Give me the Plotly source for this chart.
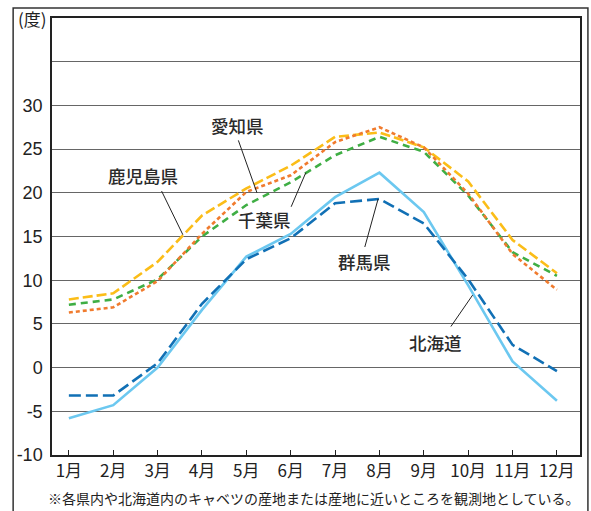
import plotly.graph_objects as go

# 月別平均気温(度)
months = list(range(1, 13))
month_labels = ["1月", "2月", "3月", "4月", "5月", "6月", "7月", "8月", "9月", "10月", "11月", "12月"]

hokkaido = [-5.8, -4.3, 0.0, 6.6, 12.7, 15.3, 19.5, 22.3, 17.8, 9.4, 0.7, -3.8]
gunma = [-3.2, -3.2, 0.5, 7.3, 12.4, 14.8, 18.8, 19.3, 16.5, 10.1, 2.6, -0.4]
aichi = [7.8, 8.5, 12.1, 17.4, 20.5, 23.1, 26.4, 26.9, 25.2, 21.3, 14.6, 10.8]
chiba = [7.2, 7.8, 10.1, 15.0, 18.6, 21.2, 24.3, 26.4, 24.7, 19.7, 13.2, 10.5]
kagoshima = [6.3, 6.9, 9.9, 15.3, 20.1, 22.0, 25.8, 27.5, 25.2, 19.9, 13.0, 8.9]

y_tickvals = [-10, -5, 0, 5, 10, 15, 20, 25, 30, 35]
y_ticktext = ["-10", "-5", "0", "5", "10", "15", "20", "25", "30", ""]

JP = "Noto Sans CJK JP"
NUM = "Liberation Sans, Arial, Noto Sans CJK JP"

series = [
    (hokkaido, "#6cc8f0", "solid"),
    (gunma, "#1170b5", "12px,5px"),
    (aichi, "#fbbd18", "10px,4px"),
    (chiba, "#3fae44", "7px,5px"),
    (kagoshima, "#f07b2e", "4px,3px"),
]

fig = go.Figure()
for vals, color, dash in series:
    fig.add_trace(go.Scatter(
        x=months, y=vals, mode="lines",
        line=dict(color=color, width=2.6, dash=dash),
        showlegend=False, hoverinfo="skip",
    ))

# 系列名と引き出し線: (名前, ラベル位置, 線の始点, 線の終点)
labels = [
    ("愛知県", (4.79, 27.7), (4.82, 26.0), (5.24, 20.0)),
    ("鹿児島県", (2.66, 22.0), (3.09, 20.2), (3.57, 15.2)),
    ("千葉県", (5.40, 17.0), (6.01, 18.4), (6.34, 22.3)),
    ("群馬県", (7.67, 12.1), (7.67, 13.8), (7.97, 19.3)),
    ("北海道", (9.26, 2.9), (9.61, 4.7), (10.10, 8.3)),
]
for name, (lx, ly), (x0, y0), (x1, y1) in labels:
    fig.add_annotation(x=lx, y=ly, text=name, showarrow=False,
                       font=dict(family=JP, size=17.5, color="#2b2b2b", weight=500),
                       xanchor="center", yanchor="middle")
    fig.add_shape(type="line", x0=x0, y0=y0, x1=x1, y1=y1,
                  line=dict(color="#222222", width=1))

# 外枠
fig.add_shape(type="rect", xref="paper", yref="paper",
              x0=-0.0736, x1=1.015, y0=-0.3, y1=1.0229,
              line=dict(color="#333333", width=1.5), layer="below")

fig.add_annotation(xref="paper", yref="paper", x=-0.036, y=1.0, text="(度)",
                   showarrow=False, xanchor="center", yanchor="middle",
                   font=dict(family=JP, size=17, color="#222222"))

fig.add_annotation(xref="paper", yref="paper", x=0.497, y=-0.098,
                   text="※各県内や北海道内のキャベツの産地または産地に近いところを観測地としている。",
                   showarrow=False, xanchor="center", yanchor="middle",
                   font=dict(family=JP, size=14, color="#222222"))

fig.update_layout(
    width=591, height=511,
    margin=dict(l=52, r=9, t=18, b=56),
    paper_bgcolor="white", plot_bgcolor="white",
    xaxis=dict(
        range=[0.62, 12.52], tickvals=months, ticktext=month_labels,
        ticks="inside", ticklen=5, tickcolor="#222222", tickwidth=1,
        showgrid=False, zeroline=False,
        showline=True, linecolor="#222222", linewidth=1.5, mirror=True,
        tickfont=dict(family=JP, size=17, color="#222222"),
    ),
    yaxis=dict(
        range=[-10, 40], tickvals=y_tickvals, ticktext=y_ticktext,
        showgrid=True, gridcolor="#666666", gridwidth=1.2, zeroline=False,
        showline=True, linecolor="#222222", linewidth=1.5, mirror=True,
        ticks="", ticklabelstandoff=4,
        tickfont=dict(family=NUM, size=18, color="#222222"),
    ),
)

fig.write_html("out.html")
